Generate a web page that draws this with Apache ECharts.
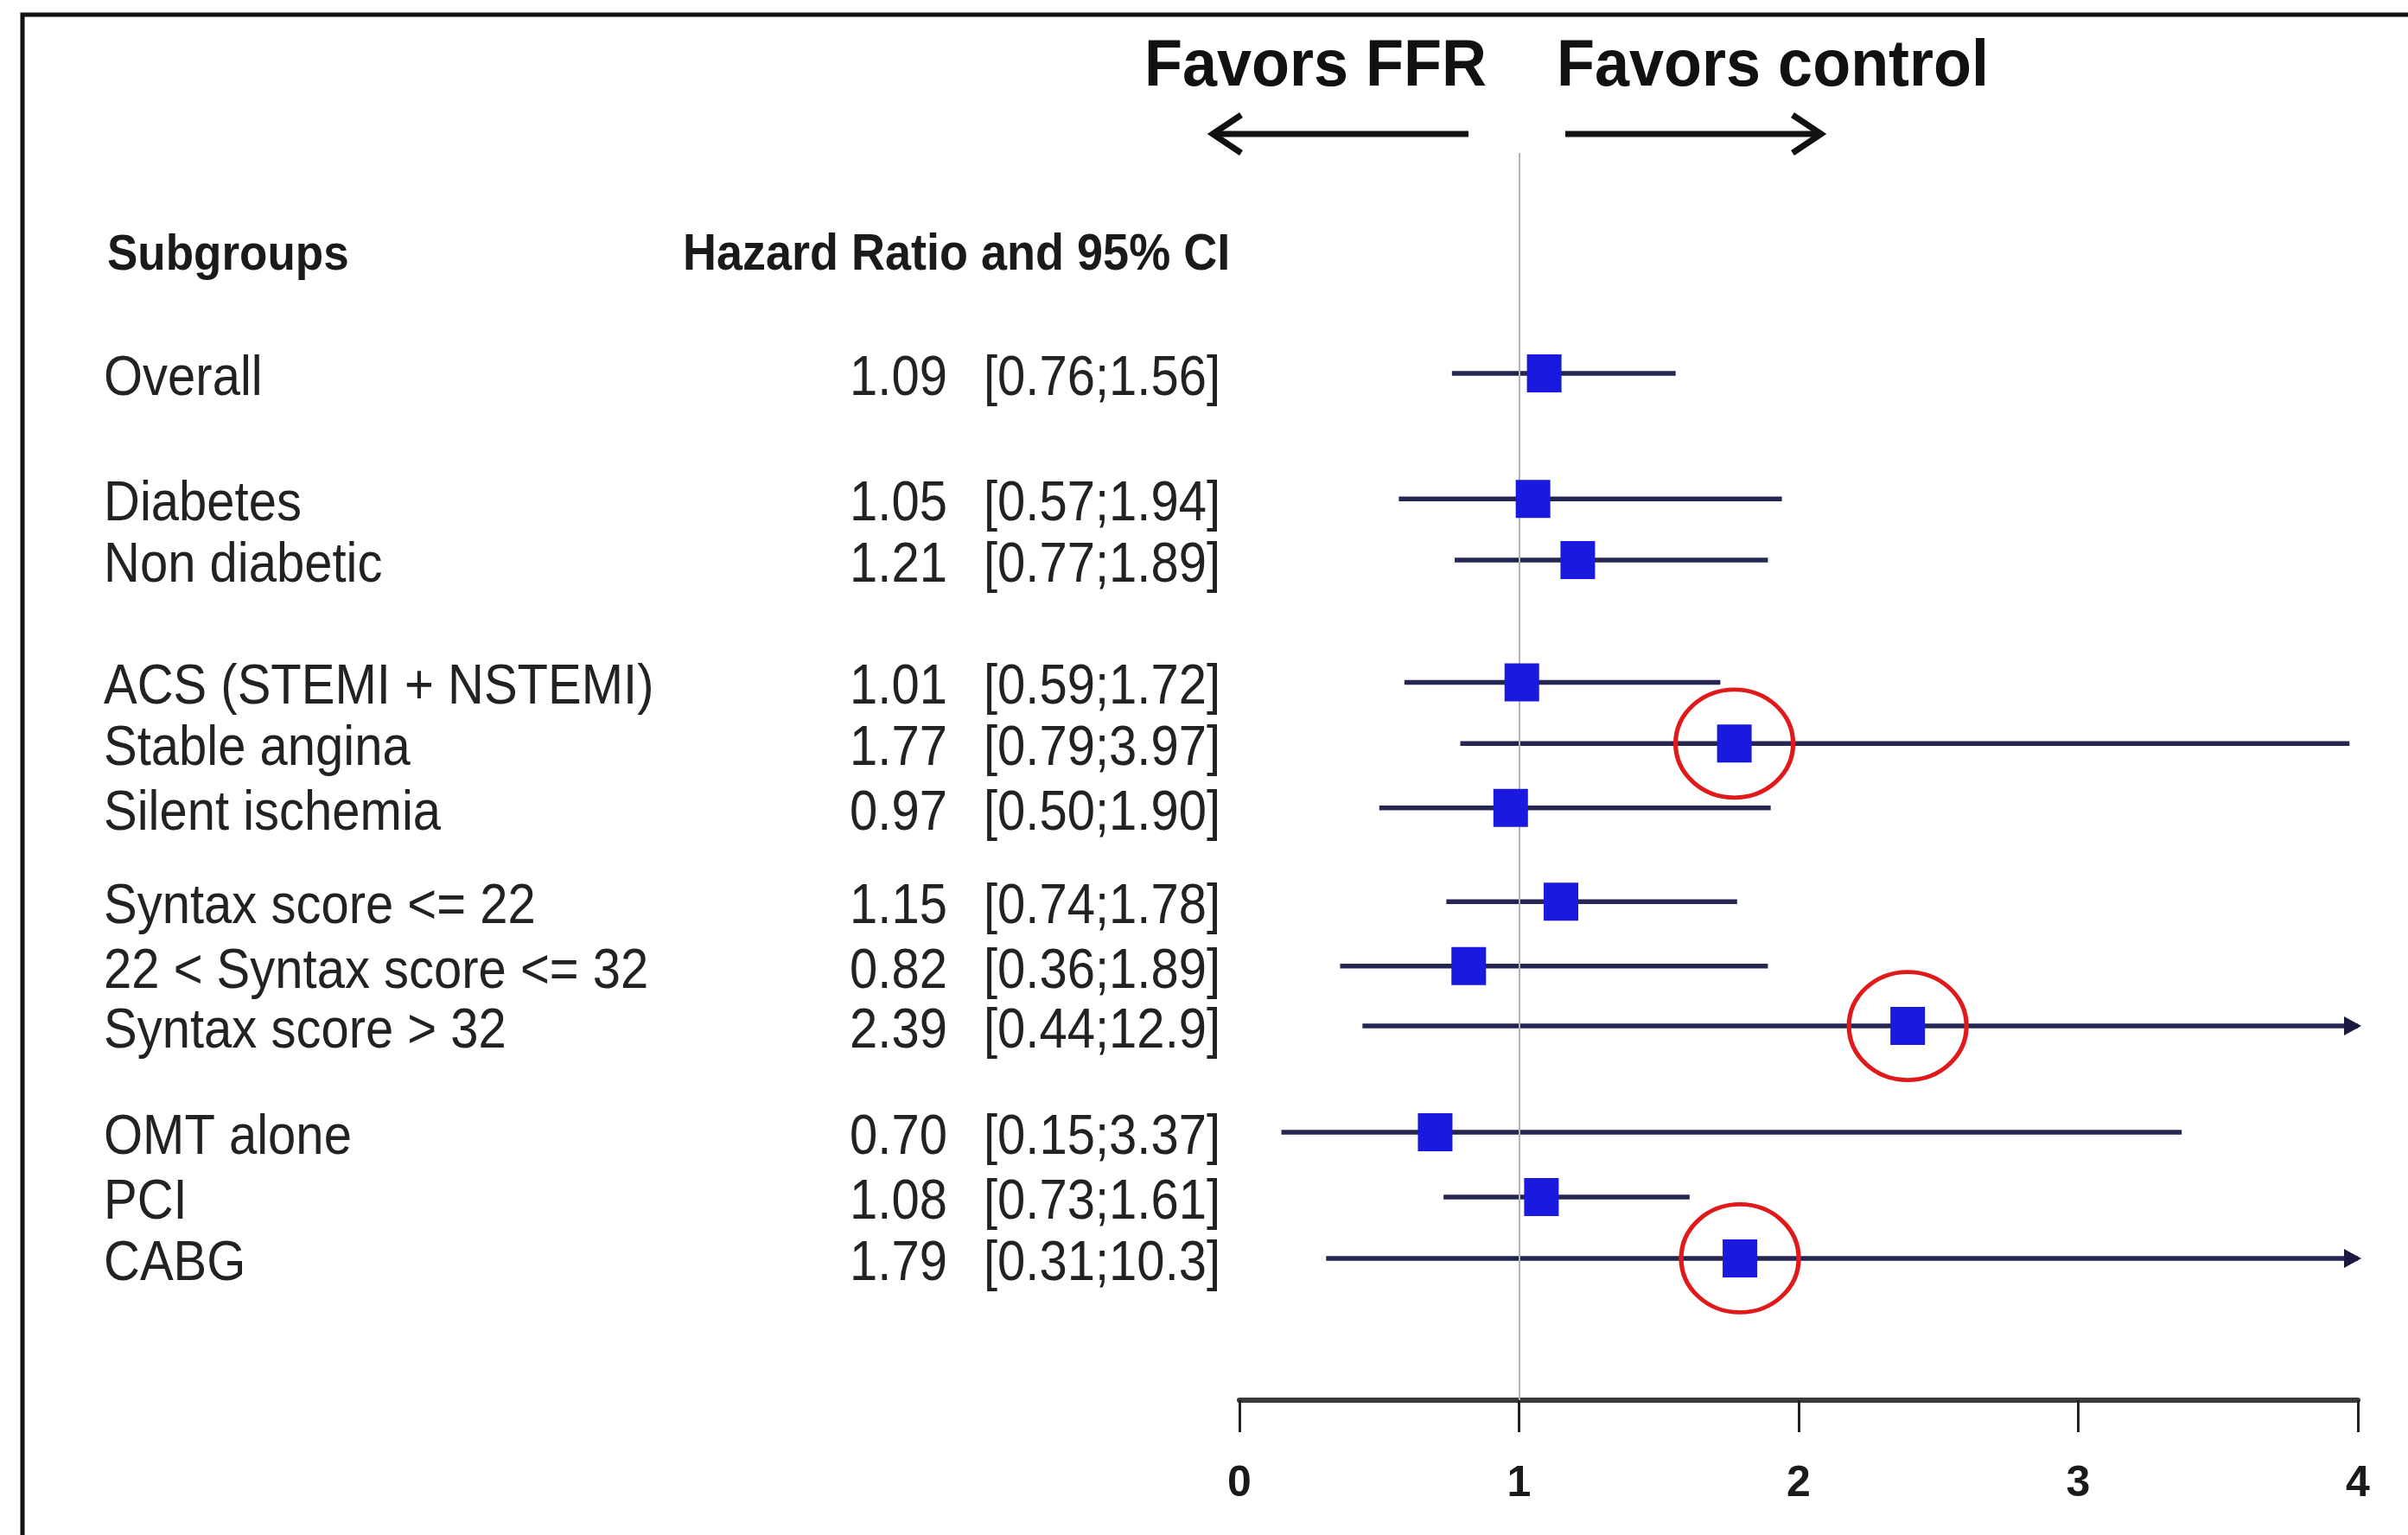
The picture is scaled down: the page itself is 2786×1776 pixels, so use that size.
<!DOCTYPE html>
<html>
<head>
<meta charset="utf-8">
<script src="https://cdn.jsdelivr.net/npm/echarts@6/dist/echarts.min.js"></script>
<style>
html,body{margin:0;padding:0;background:#fff;}
#chart{width:2786px;height:1776px;}
</style>
</head>
<body>
<div id="chart"></div>
<script>
// ---- data ----
const subgroups = ['Overall','Diabetes','Non diabetic','ACS (STEMI + NSTEMI)','Stable angina','Silent ischemia','Syntax score <= 22','22 < Syntax score <= 32','Syntax score > 32','OMT alone','PCI','CABG'];
const hazardRatio = [1.09,1.05,1.21,1.01,1.77,0.97,1.15,0.82,2.39,0.70,1.08,1.79];
const ciLower = [0.76,0.57,0.77,0.59,0.79,0.50,0.74,0.36,0.44,0.15,0.73,0.31];
const ciUpper = [1.56,1.94,1.89,1.72,3.97,1.90,1.78,1.89,12.9,3.37,1.61,10.3];
const rowPos = [0,2.03,3.02,5.0,5.99,7.03,8.55,9.59,10.56,12.28,13.33,14.32];
const circled = ['Stable angina','Syntax score > 32','CABG'];
const xTicks = [0,1,2,3,4];
const refValue = 1;

const X_MIN = 0, X_MAX = 4;
const FONT = '"Liberation Sans", Arial, sans-serif';
const fmt = v => v >= 10 ? v.toFixed(1) : v.toFixed(2);

const chart = echarts.init(document.getElementById('chart'), null, {renderer:'canvas'});

const tableData = subgroups.map((s,i)=>[rowPos[i], i]);
const ciData = subgroups.map((s,i)=>[rowPos[i], ciLower[i], ciUpper[i]]);
const pointData = subgroups.map((s,i)=>[hazardRatio[i], rowPos[i]]);
const circleData = subgroups.map((s,i)=>circled.includes(s) ? [hazardRatio[i], rowPos[i]] : null).filter(Boolean);

const option = {
  backgroundColor:'#fff',
  animation:false,
  grid:{left:1434, width:1294, top:177, height:1443},
  xAxis:{
    type:'value', min:X_MIN, max:X_MAX, interval:1,
    axisLine:{show:true, onZero:false, lineStyle:{color:'#3a3a3a', width:6}},
    axisTick:{show:true, length:37, lineStyle:{color:'#222', width:3}},
    axisLabel:{show:true, margin:72, fontSize:50, fontWeight:'bold', color:'#1a1a1a', fontFamily:FONT,
      formatter: v => xTicks.includes(v) ? String(v) : ''},
    splitLine:{show:false}
  },
  yAxis:{type:'value', inverse:true, min:-3.566, max:16.615, show:false},
  graphic:[
    {type:'polyline', shape:{points:[[26,1776],[26,17],[2786,17]]}, style:{stroke:'#111', lineWidth:5, fill:null}},
    {type:'text', x:1324, y:78, scaleY:1.05, style:{text:'Favors FFR', fontSize:72, fontWeight:'bold', fontFamily:FONT, fill:'#111', align:'left', verticalAlign:'middle'}},
    {type:'text', x:1801, y:78, scaleY:1.05, style:{text:'Favors control', fontSize:72, fontWeight:'bold', fontFamily:FONT, fill:'#111', align:'left', verticalAlign:'middle'}},
    {type:'line', shape:{x1:1403,y1:155,x2:1699,y2:155}, style:{stroke:'#111', lineWidth:7}},
    {type:'polyline', shape:{points:[[1436,133],[1403,155],[1436,177]]}, style:{stroke:'#111', lineWidth:7, fill:null}},
    {type:'line', shape:{x1:1811,y1:155,x2:2107,y2:155}, style:{stroke:'#111', lineWidth:7}},
    {type:'polyline', shape:{points:[[2074,133],[2107,155],[2074,177]]}, style:{stroke:'#111', lineWidth:7, fill:null}},
    {type:'text', x:124, y:296, scaleY:1.1, style:{text:'Subgroups', fontSize:53, fontWeight:'bold', fontFamily:FONT, fill:'#1a1a1a', align:'left', verticalAlign:'middle'}},
    {type:'text', x:790, y:296, scaleY:1.1, style:{text:'Hazard Ratio and 95% CI', fontSize:54, fontWeight:'bold', fontFamily:FONT, fill:'#1a1a1a', align:'left', verticalAlign:'middle'}}
  ],
  series:[
    {
      type:'custom', name:'table', clip:false, silent:true,
      data: tableData, encode:{y:0},
      renderItem:(params, api)=>{
        const i = api.value(1);
        const y = api.coord([X_MIN, api.value(0)])[1] + 7;
        const base = {fontSize:58, fontFamily:FONT, fill:'#222', verticalAlign:'middle'};
        return {type:'group', children:[
          {type:'text', x:120, y:y, scaleY:1.12, style:Object.assign({text:subgroups[i], align:'left'}, base)},
          {type:'text', x:1096, y:y, scaleY:1.12, style:Object.assign({text:hazardRatio[i].toFixed(2), align:'right'}, base)},
          {type:'text', x:1138, y:y, scaleY:1.12, style:Object.assign({text:'['+fmt(ciLower[i])+';'+fmt(ciUpper[i])+']', align:'left'}, base)}
        ]};
      }
    },
    {
      type:'custom', name:'ci', clip:false, silent:true,
      data: ciData, encode:{x:[1,2], y:0},
      renderItem:(params, api)=>{
        const yv = api.value(0), lo = api.value(1), hi = api.value(2);
        const p1 = api.coord([Math.max(lo,X_MIN), yv]);
        const p2 = api.coord([Math.min(hi,X_MAX), yv]);
        const children = [{type:'line', shape:{x1:p1[0],y1:p1[1],x2:p2[0],y2:p2[1]}, style:{stroke:'#262652', lineWidth:5.5}}];
        if (hi > X_MAX) {
          children.push({type:'polygon', shape:{points:[[p2[0]+4,p2[1]],[p2[0]-16,p2[1]-11],[p2[0]-16,p2[1]+11]]}, style:{fill:'#1a1a40'}});
        }
        return {type:'group', children};
      },
      markLine:{
        silent:true, symbol:['none','none'], label:{show:false},
        lineStyle:{color:'#b4b4b4', width:2, type:'solid'},
        data:[{xAxis:refValue}]
      }
    },
    {
      type:'scatter', name:'HR', silent:true,
      data: pointData, symbol:'rect', symbolSize:[40,44],
      itemStyle:{color:'#1a1ade', opacity:1}, z:5
    },
    {
      type:'scatter', name:'highlight', silent:true,
      data: circleData,
      symbol:'path://M0,50 A50,50 0 1,1 100,50 A50,50 0 1,1 0,50 Z',
      symbolSize:[136,125],
      itemStyle:{color:'rgba(0,0,0,0)', borderColor:'#e01a1a', borderWidth:5, opacity:1}, z:6
    }
  ]
};
chart.setOption(option);
</script>
</body>
</html>
